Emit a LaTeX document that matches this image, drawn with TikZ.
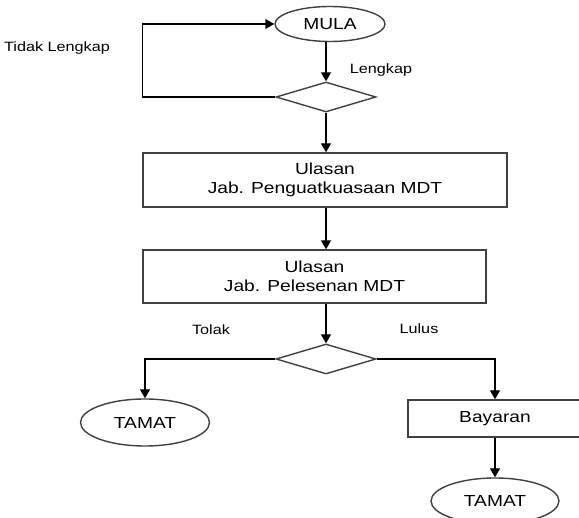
\documentclass[tikz,border=0pt]{standalone}
\usepackage{fontspec}
\setmainfont{Liberation Sans}[FakeStretch=1.2]
\usetikzlibrary{shapes.geometric,arrows.meta}

\begin{document}
\begin{tikzpicture}[x=1pt,y=-1pt,line width=1.4pt,
    flow/.style={draw=black,-{Triangle[length=9pt,width=10pt]}},
    terminal/.style={draw=black!75,ellipse,inner sep=0pt,font=\fontsize{16}{19}\selectfont},
    process/.style={draw=black!75,rectangle,inner sep=0pt,align=center,font=\fontsize{16}{19}\selectfont},
    decision/.style={draw=black!75,diamond,inner sep=0pt,minimum width=100pt,minimum height=30pt},
    note/.style={inner sep=0pt,font=\fontsize{13.5}{16}\selectfont}]
                    \useasboundingbox (0,0) rectangle (579,518);
                    \node[terminal,minimum width=110pt,minimum height=35pt] (mula) at (330,24) {MULA};
                    \node[decision] (semak) at (326,97) {};
                    \node[process,minimum width=364pt,minimum height=54pt] (ulasan1) at (325,180) {Ulasan\\Jab. Penguatkuasaan MDT};
                    \node[process,minimum width=343pt,minimum height=53pt] (ulasan2) at (314.5,276.5) {Ulasan\\Jab. Pelesenan MDT};
                    \node[decision] (keputusan) at (326,359) {};
                    \node[terminal,minimum width=129pt,minimum height=47pt] (tamat1) at (145,422.5) {TAMAT};
                    \node[process,minimum width=174pt,minimum height=37pt] (bayaran) at (495,418.5) {Bayaran};
                    \node[terminal,minimum width=128pt,minimum height=46pt] (tamat2) at (495,501) {TAMAT};
                    \node[note] (tidak) at (57,48) {Tidak Lengkap};
                    \node[note] (lengkap) at (381,70) {Lengkap};
                    \node[note] (tolak) at (211,330) {Tolak};
                    \node[note] (lulus) at (419,329) {Lulus};
                    \draw[flow] (mula.south -| semak.north) -- (semak.north);
                    \draw[flow] (semak.west) -- ++(-133,0) |- (mula.west);
                    \draw[flow] (semak.south) -- (semak.south |- ulasan1.north);
                    \draw[flow] (semak.south |- ulasan1.south) -- (semak.south |- ulasan2.north);
                    \draw[flow] (keputusan.north |- ulasan2.south) -- (keputusan.north);
                    \draw[flow] (keputusan.west) -| (tamat1.north);
                    \draw[flow] (keputusan.east) -| (bayaran.north);
                    \draw[flow] (bayaran.south) -- (tamat2.north);
                \end{tikzpicture}
\end{document}
